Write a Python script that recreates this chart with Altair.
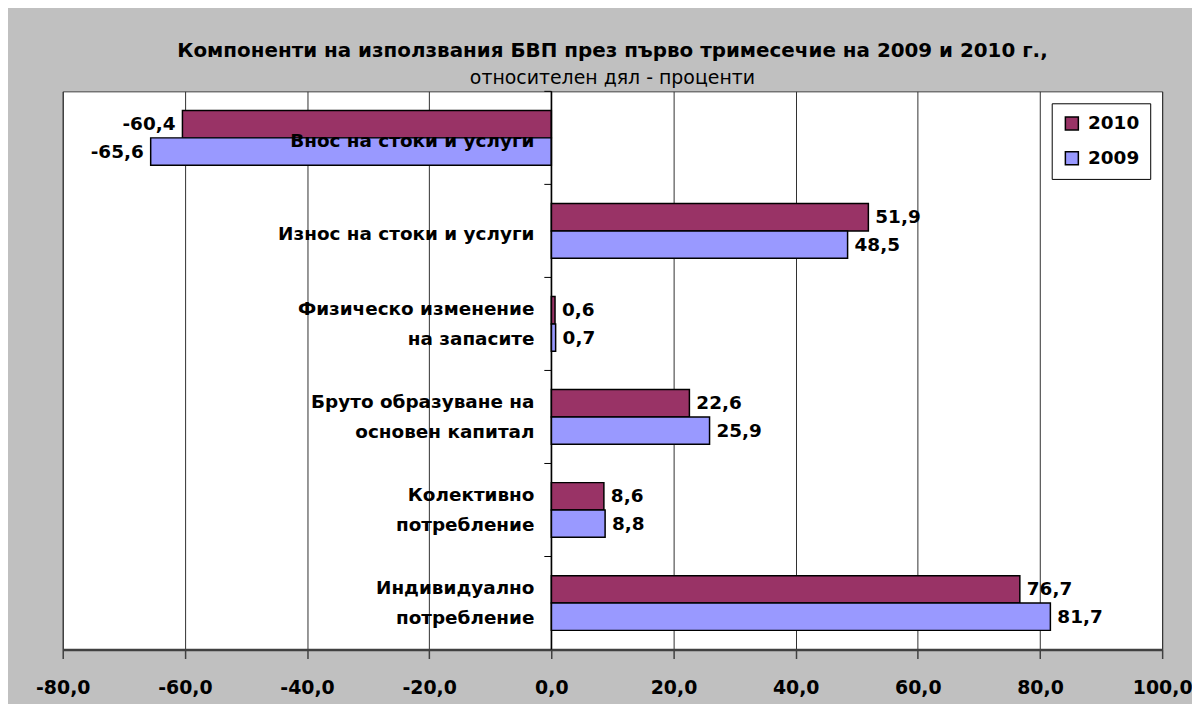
import altair as alt
import pandas as pd

categories = [
    "Внос на стоки и услуги",
    "Износ на стоки и услуги",
    "Физическо изменение\nна запасите",
    "Бруто образуване на\nосновен капитал",
    "Колективно\nпотребление",
    "Индивидуално\nпотребление",
]
years = ["2010", "2009"]
v2010 = [-60.4, 51.9, 0.6, 22.6, 8.6, 76.7]
v2009 = [-65.6, 48.5, 0.7, 25.9, 8.8, 81.7]
x_ticks = [-80, -60, -40, -20, 0, 20, 40, 60, 80, 100]
colors = ["#993366", "#9999FF"]

rows = []
for c, a, b in zip(categories, v2010, v2009):
    rows.append({"cat": c, "year": "2010", "value": a})
    rows.append({"cat": c, "year": "2009", "value": b})
df = pd.DataFrame(rows)
df["label"] = df["value"].map(lambda v: f"{v:.1f}".replace(".", ","))
cats_df = pd.DataFrame({"cat": categories})
cats_df["multi"] = cats_df["cat"].str.contains("\n")

FONT = "DejaVu Sans"

y_enc = alt.Y("cat:N", sort=categories, axis=None,
              scale=alt.Scale(paddingInner=0, paddingOuter=0))
yoff = alt.YOffset("year:N", sort=years,
                   scale=alt.Scale(paddingInner=0, paddingOuter=0.7))
x_scale = alt.Scale(domain=[-80, 100], nice=False, zero=False)

bars = alt.Chart(df).mark_bar(stroke="black", strokeWidth=1.5).encode(
    x=alt.X("value:Q", scale=x_scale, title=None,
            axis=alt.Axis(values=x_ticks,
                          labelExpr="replace(replace(format(datum.value, '.1f'), '.', ','), '\u2212', '-')",
                          labelFlush=False, labelOverlap=False,
                          grid=True, gridColor="#303030", gridWidth=1,
                          labelFontSize=19, labelFontWeight="bold",
                          labelColor="black", labelFont=FONT,
                          labelPadding=20, tickSize=9, tickColor="#404040",
                          tickWidth=1.5, domainColor="#404040", domainWidth=2.5)),
    y=y_enc,
    yOffset=yoff,
    color=alt.Color("year:N", sort=years,
                    scale=alt.Scale(domain=years, range=colors),
                    legend=alt.Legend(title=None, orient="none", legendX=994, legendY=12,
                                      fillColor="white", strokeColor="black",
                                      padding=11, symbolType="square", symbolSize=170,
                                      symbolStrokeColor="black", symbolStrokeWidth=1.5,
                                      labelFontSize=18.5, labelFontWeight="bold",
                                      labelFont=FONT, labelColor="black",
                                      rowPadding=15, labelOffset=7)),
)

zero_line = alt.Chart(cats_df).mark_rule(color="black", strokeWidth=1.5).encode(
    x=alt.datum(0)
).transform_filter("datum.cat == '" + categories[0] + "'")

ticks = alt.Chart(cats_df).mark_rule(color="black", strokeWidth=1).encode(
    y=alt.Y("cat:N", sort=categories, bandPosition=0, axis=None),
    x=alt.datum(-1.15), x2=alt.datum(0),
)

label_style = dict(baseline="middle", fontSize=18.5, fontWeight="bold",
                   font=FONT, color="black")

pos_labels = alt.Chart(df).transform_filter("datum.value >= 0").mark_text(
    align="left", dx=7, **label_style
).encode(x=alt.X("value:Q", scale=x_scale), y=y_enc, yOffset=yoff, text="label:N")

neg_labels = alt.Chart(df).transform_filter("datum.value < 0").mark_text(
    align="right", dx=-7, **label_style
).encode(x=alt.X("value:Q", scale=x_scale), y=y_enc, yOffset=yoff, text="label:N")

cat_style = dict(align="right", baseline="middle", dx=-17, fontSize=18.5,
                 fontWeight="bold", font=FONT, color="black",
                 lineBreak="\n", lineHeight=30)

cat_single = alt.Chart(cats_df).transform_filter("!datum.multi").mark_text(
    dy=3, **cat_style
).encode(x=alt.datum(0), y=y_enc, text="cat:N")

cat_multi = alt.Chart(cats_df).transform_filter("datum.multi").mark_text(
    dy=-15, **cat_style
).encode(x=alt.datum(0), y=y_enc, text="cat:N")

chart = alt.layer(bars, zero_line, ticks, pos_labels, neg_labels, cat_single, cat_multi).properties(
    width=1105, height=561,
    title=alt.TitleParams(
        text="Компоненти на използвания БВП през първо тримесечие на 2009 и 2010 г.,",
        subtitle="относителен дял - проценти",
        fontSize=20, fontWeight="bold", font=FONT, color="black",
        subtitleFontSize=19, subtitleFont=FONT, subtitleColor="black",
        subtitleFontWeight="normal",
        subtitlePadding=8, offset=3, anchor="middle",
    ),
    autosize=alt.AutoSizeParams(type="none"),
    padding={"left": 55, "top": 82, "right": 30, "bottom": 60},
).configure(background="#C0C0C0").configure_view(
    fill="white", stroke="#404040", strokeWidth=1
)

chart.save("out.html", embed_options={"renderer": "svg", "actions": False})
